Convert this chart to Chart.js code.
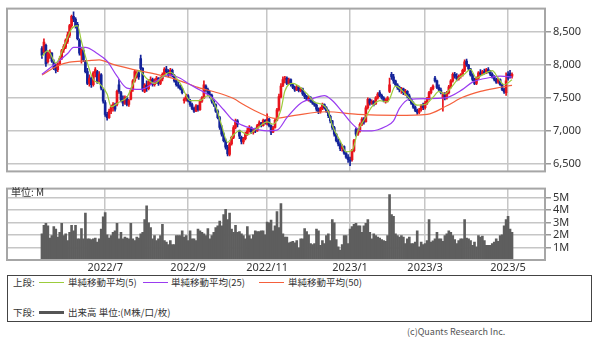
<!DOCTYPE html>
<html>
<head>
<meta charset="utf-8">
<script src="https://cdn.jsdelivr.net/npm/chart.js@4.4.0/dist/chart.umd.min.js"></script>
<style>
  body { margin: 0; width: 600px; height: 344px; background: #fff; position: relative; overflow: hidden;
         font-family: "Noto Sans CJK JP", "Noto Sans", sans-serif; color: #333; }
  #price { position: absolute; left: 0; top: 0; }
  #vol { position: absolute; left: 0; top: 180px; }
  .unit { position: absolute; left: 11px; top: 186px; font-size: 10px; line-height: 12px; }
  .legend { position: absolute; left: 7px; top: 275px; width: 585px; height: 47px; border: 1px solid #444;
            box-sizing: border-box; font-size: 9.5px; }
  .legend span { position: absolute; white-space: nowrap; line-height: 12px; }
  .legend i { position: absolute; height: 0; }
  .credit { position: absolute; left: 407px; top: 325px; font-size: 9px; color: #555; line-height: 14px; }
</style>
</head>
<body>
<canvas id="price" width="600" height="180"></canvas>
<canvas id="vol" width="600" height="95"></canvas>
<div class="unit">単位: M</div>
<div class="legend">
  <span style="left:5px;top:0px">上段:</span>
  <i style="left:31px;top:6px;width:25px;border-top:1px solid #9ccc3c"></i>
  <span style="left:60px;top:0px">単純移動平均(5)</span>
  <i style="left:135px;top:6px;width:25px;border-top:1px solid #9a3cf0"></i>
  <span style="left:163px;top:0px">単純移動平均(25)</span>
  <i style="left:251px;top:6px;width:25px;border-top:1px solid #f5603c"></i>
  <span style="left:280px;top:0px">単純移動平均(50)</span>
  <span style="left:5px;top:30px">下段:</span>
  <i style="left:31px;top:35px;width:25px;border-top:3px solid #555"></i>
  <span style="left:60px;top:30px">出来高 単位:(M株/口/枚)</span>
</div>
<div class="credit">(c)Quants Research Inc.</div>
<script>
// daily candles, index 0 = 2022/5/18
const opens = [8250,8200,8300,8050,8150,8180,8050,7980,7930,8020,
  8100,8230,8270,8360,8450,8600,8740,8700,8620,8380,
  8150,8220,8050,7900,7720,7800,7700,7880,7900,7760,
  7850,7620,7430,7250,7200,7300,7350,7400,7400,7700,
  7580,7460,7420,7500,7400,7480,7620,7760,7820,7880,
  8100,7950,7600,7690,7640,7750,7780,7700,7760,7800,
  7720,7790,7860,7940,7900,7850,7920,7840,7760,7700,
  7680,7640,7460,7480,7530,7460,7400,7340,7300,7380,
  7320,7450,7500,7680,7630,7560,7540,7450,7400,7300,
  7200,7050,6950,6850,6750,6640,6800,6900,7050,7150,
  7000,6900,6830,6880,6950,7000,7050,6980,7020,7000,
  7080,7120,7080,7160,7100,7180,7080,6980,7050,7160,
  7320,7520,7690,7780,7800,7720,7780,7700,7660,7620,
  7670,7610,7640,7560,7520,7480,7500,7450,7420,7390,
  7330,7290,7340,7400,7350,7300,7220,7150,7050,6950,
  6850,6800,6730,6760,6660,6600,6560,6560,6700,7020,
  6950,7000,7100,7180,7140,7350,7480,7420,7450,7410,
  7500,7580,7540,7500,7440,7470,7600,7860,7820,7760,
  7700,7660,7620,7640,7580,7600,7530,7480,7420,7360,
  7310,7280,7320,7380,7350,7420,7490,7580,7640,7800,
  7760,7660,7620,7500,7550,7500,7580,7670,7760,7860,
  7830,7790,7830,7850,7920,8060,8000,7940,7850,7780,
  7720,7800,7880,7860,7900,7880,7930,7900,7860,7820,
  7780,7740,7780,7700,7630,7580,7860,7870,7830];
const highs = [8280,8400,8320,8200,8230,8190,8080,8010,8030,8130,
  8240,8310,8400,8500,8620,8760,8810,8720,8650,8400,
  8250,8260,8070,7950,7850,7820,7900,7960,7920,7900,
  7870,7640,7460,7280,7330,7390,7430,7420,7620,7780,
  7600,7530,7530,7520,7480,7650,7780,7920,7900,7900,
  8150,7960,7720,7760,7780,7820,7800,7790,7830,7810,
  7820,7880,7960,7980,7930,7950,7940,7860,7780,7740,
  7700,7660,7500,7560,7550,7480,7420,7360,7400,7390,
  7470,7520,7760,7700,7650,7600,7560,7470,7410,7320,
  7220,7080,6970,6880,6780,6820,6920,7080,7180,7170,
  7010,6920,6900,6980,7040,7080,7060,7030,7040,7100,
  7150,7130,7180,7170,7260,7190,7090,7070,7180,7340,
  7560,7720,7820,7830,7820,7800,7790,7720,7680,7690,
  7680,7660,7650,7580,7540,7530,7520,7470,7440,7410,
  7350,7360,7420,7410,7370,7320,7240,7160,7070,6960,
  6880,6820,6790,6770,6680,6640,6600,6720,6870,7040,
  7030,7120,7200,7200,7380,7500,7490,7470,7460,7520,
  7580,7610,7560,7520,7490,7520,7800,7890,7860,7770,
  7720,7680,7660,7650,7630,7610,7560,7490,7440,7380,
  7330,7340,7400,7420,7450,7510,7600,7660,7700,7830,
  7770,7700,7650,7580,7580,7600,7690,7780,7880,7890,
  7870,7850,7870,7940,8080,8090,8010,7950,7870,7800,
  7820,7900,7930,7920,7940,7950,7960,7920,7880,7840,
  7800,7800,7790,7710,7650,7880,7900,7920,7880];
const lows = [8100,8180,7980,8030,8100,8040,7930,7880,7900,8000,
  8080,8190,8250,8330,8420,8570,8660,8560,8380,8150,
  8030,8050,7880,7700,7680,7660,7680,7820,7720,7740,
  7620,7420,7220,7160,7190,7260,7300,7300,7380,7570,
  7440,7380,7400,7380,7370,7470,7600,7740,7800,7780,
  7920,7600,7580,7600,7620,7700,7680,7680,7720,7690,
  7700,7760,7840,7880,7820,7830,7820,7740,7680,7650,
  7620,7560,7420,7450,7440,7370,7320,7280,7290,7300,
  7310,7430,7490,7600,7530,7500,7420,7370,7280,7180,
  7020,6920,6830,6720,6620,6620,6780,6880,7030,7060,
  6880,6800,6800,6860,6930,6980,6960,6950,6970,6990,
  7060,7060,7070,7100,7090,7060,6940,6970,7040,7150,
  7300,7500,7670,7730,7700,7700,7680,7640,7600,7610,
  7590,7590,7540,7490,7460,7450,7430,7400,7370,7300,
  7260,7270,7320,7330,7280,7200,7120,7020,6920,6830,
  6770,6700,6690,6640,6580,6520,6470,6540,6680,6920,
  6930,6980,7080,7100,7130,7330,7390,7400,7380,7400,
  7480,7520,7480,7440,7420,7440,7580,7780,7720,7680,
  7630,7590,7570,7550,7540,7500,7460,7400,7340,7290,
  7250,7260,7300,7320,7330,7400,7470,7560,7620,7740,
  7640,7600,7560,7300,7470,7480,7560,7650,7740,7800,
  7760,7770,7800,7830,7900,7980,7920,7830,7760,7700,
  7700,7780,7840,7850,7860,7870,7880,7840,7800,7760,
  7720,7720,7690,7610,7570,7540,7770,7800,7800];
const closes = [8150,8350,8020,8180,8200,8060,7960,7920,8010,8100,
  8220,8280,8380,8460,8600,8740,8700,8600,8400,8180,
  8230,8080,7900,7720,7800,7700,7880,7930,7750,7860,
  7650,7450,7250,7200,7300,7360,7400,7330,7600,7600,
  7470,7420,7510,7400,7460,7620,7760,7900,7880,7820,
  7950,7620,7700,7640,7750,7780,7700,7760,7800,7720,
  7790,7860,7940,7900,7850,7920,7840,7760,7700,7680,
  7640,7580,7480,7530,7460,7400,7340,7300,7380,7320,
  7450,7500,7700,7630,7560,7540,7450,7400,7300,7200,
  7050,6950,6850,6750,6650,6800,6900,7050,7150,7100,
  6920,6840,6880,6950,7000,7050,6980,7000,7000,7080,
  7120,7080,7160,7120,7180,7080,6980,7050,7160,7320,
  7520,7680,7780,7800,7720,7780,7700,7660,7620,7670,
  7610,7640,7560,7520,7480,7500,7450,7420,7390,7330,
  7290,7340,7390,7350,7300,7230,7150,7050,6950,6850,
  6800,6730,6760,6660,6600,6560,6540,6700,6850,6950,
  7000,7100,7180,7130,7350,7480,7420,7450,7400,7500,
  7560,7540,7500,7460,7470,7500,7700,7820,7760,7700,
  7660,7620,7640,7580,7600,7530,7480,7420,7360,7310,
  7280,7320,7380,7350,7420,7490,7580,7640,7680,7760,
  7660,7620,7580,7550,7500,7580,7670,7760,7860,7830,
  7790,7830,7850,7920,8050,8000,7940,7850,7780,7720,
  7800,7880,7860,7900,7880,7930,7900,7860,7820,7780,
  7740,7780,7700,7630,7590,7760,7800,7820,7860];
// volume, millions of shares
const volumes = [2.08,2.77,2.92,2.72,1.74,1.95,2.67,2.46,1.82,2.21,
  2.92,1.95,2.08,1.56,2.21,2.77,2.33,2.77,1.69,1.69,
  2.51,1.69,3.74,1.69,1.69,1.64,1.69,1.74,1.44,1.69,
  2.46,3.44,3.79,2.0,1.74,1.95,2.21,2.33,2.92,1.69,
  2.21,1.69,1.82,1.74,1.69,2.92,1.69,1.56,1.82,1.74,
  2.08,2.21,3.23,4.33,2.97,2.59,1.69,1.95,1.56,1.69,
  1.95,2.85,1.56,1.44,1.23,1.56,1.23,1.23,1.95,1.95,
  1.95,2.33,1.82,1.95,1.56,2.33,1.69,1.69,1.56,2.46,
  2.33,2.21,2.08,1.95,2.51,1.69,1.95,2.21,2.59,2.72,
  3.10,2.72,3.62,4.05,3.23,3.74,2.46,2.21,2.77,2.21,
  2.26,2.08,1.95,1.69,2.67,1.95,1.69,2.0,2.33,2.26,
  2.26,2.33,2.33,2.0,3.03,2.97,3.18,2.33,2.72,3.87,
  2.59,4.51,2.08,1.82,1.82,1.38,1.44,1.49,1.38,1.56,
  0.97,1.69,1.69,2.51,2.26,2.0,1.31,1.23,1.31,2.46,
  2.33,1.18,1.56,1.31,1.95,2.08,1.56,3.23,2.97,1.64,
  1.05,0.79,1.23,1.95,1.95,1.31,2.46,2.67,2.85,2.92,
  2.72,2.72,2.21,2.72,2.92,3.23,2.21,1.69,2.08,1.95,
  1.82,1.74,1.64,1.56,1.49,1.95,5.23,3.62,3.49,2.08,
  1.95,1.82,1.95,1.82,1.31,1.69,1.82,1.31,1.31,1.44,
  2.33,1.05,1.44,1.23,1.31,1.56,3.23,1.44,1.54,1.69,
  2.21,1.69,1.69,1.49,1.95,2.08,2.33,2.21,1.95,1.64,
  1.31,1.56,1.69,1.69,3.23,1.74,1.69,1.56,1.18,1.44,
  1.05,1.95,1.82,1.90,1.56,1.18,1.18,1.18,1.31,1.44,
  1.69,1.49,1.95,2.0,2.72,3.23,3.49,2.46,2.21];

// moving averages (day index, value)
const ma5Days = [0,3,7,11,15,18,20,23,26,29,33,35,39,43,46,49,53,57,61,65,
  70,75,80,84,88,91,94,97,100,104,109,114,117,121,123,127,132,135,138,142,
  145,147,151,154,157,160,164,167,171,175,179,184,187,190,194,198,201,204,207,211,
  214,217,220,223,228,231,234,238];
const ma5Vals = [8130,8220,8030,8270,8550,8600,8360,8030,7780,7720,7560,7365,7435,7510,7700,7915,7795,7720,7820,7890,
  7720,7460,7460,7535,7365,7080,6825,6940,7000,6940,7040,7135,7100,7320,7605,7720,7630,7535,7435,7400,
  7290,7080,6850,6680,6700,7000,7210,7365,7460,7440,7680,7560,7460,7390,7400,7510,7600,7560,7650,7800,
  7865,7935,7800,7850,7915,7800,7700,7775];
const ma25Days = [0,6,13,16,22,28,33,38,43,50,58,64,70,74,80,86,92,96,101,106,
  114,119,124,131,138,143,147,152,157,162,167,174,178,181,186,195,204,213,218,227,232,238];
const ma25Vals = [7860,8000,8175,8270,8270,8175,8060,7830,7650,7630,7760,7850,7800,7720,7620,7510,7320,7180,7090,7040,
  7000,7010,7200,7420,7500,7535,7460,7290,7110,7000,7000,7065,7150,7340,7480,7490,7500,7630,7740,7810,7830,7820];
const ma50Days = [0,8,14,23,29,36,46,57,67,79,91,97,102,111,118,128,144,160,180,195,205,213,222,230,238];
const ma50Vals = [7850,7990,8045,8065,8080,8010,7935,7865,7790,7660,7560,7490,7400,7260,7190,7235,7290,7250,7235,7250,7380,7510,7600,7650,7690];

// month gridlines: first trading day of each labelled month
const tickDays = [32, 74, 114, 156, 194, 236];
const tickLabels = ['2022/7', '2022/9', '2022/11', '2023/1', '2023/3', '2023/5'];
const priceTicks = [6500, 7000, 7500, 8000, 8500];
const volTicks = [1, 2, 3, 4, 5];

const RED = '#e8141c', BLUE = '#14239a', GRID = '#c6c6c6';
const candleColors = closes.map((c, i) => c >= opens[i] ? RED : BLUE);
const xRange = { min: -17.7, max: 254.7 };
const tickFont = { family: 'Noto Sans', size: 11 };

const frame = {
  id: 'frame',
  afterDraw(chart) {
    const a = chart.chartArea, ctx = chart.ctx;
    ctx.save();
    ctx.strokeStyle = '#a6a6a6';
    ctx.lineWidth = 2;
    ctx.strokeRect(a.left, a.top, a.right - a.left, a.bottom - a.top);
    ctx.restore();
  }
};

function maLine(days, vals, color) {
  return {
    type: 'line',
    data: days.map((d, k) => ({ x: d, y: vals[k] })),
    borderColor: color,
    borderWidth: 1.2,
    pointRadius: 0,
    cubicInterpolationMode: 'monotone',
    order: 0
  };
}

new Chart(document.getElementById('price'), {
  type: 'bar',
  data: {
    datasets: [
      maLine(ma5Days, ma5Vals, '#9ccc3c'),
      maLine(ma25Days, ma25Vals, '#9a3cf0'),
      maLine(ma50Days, ma50Vals, '#f5603c'),
      {
        data: highs.map((h, i) => ({ x: i, y: [lows[i], h] })),
        backgroundColor: candleColors,
        barThickness: 1,
        grouped: false,
        order: 2
      },
      {
        data: opens.map((o, i) => ({ x: i, y: [o, closes[i]] })),
        backgroundColor: candleColors,
        barThickness: 2,
        grouped: false,
        order: 1
      }
    ]
  },
  options: {
    responsive: false,
    animation: false,
    devicePixelRatio: 1,
    layout: { padding: { left: 7, top: 2, right: 0, bottom: 4 } },
    plugins: { legend: { display: false }, tooltip: { enabled: false } },
    scales: {
      x: {
        type: 'linear', min: xRange.min, max: xRange.max, offset: false,
        afterBuildTicks: s => { s.ticks = tickDays.map(v => ({ value: v })); },
        afterFit: s => { s.height = 0; },
        ticks: { display: false },
        grid: { color: GRID, lineWidth: 1.5, drawTicks: false, offset: false },
        border: { display: false }
      },
      y: {
        position: 'right', min: 6383, max: 8858,
        afterBuildTicks: s => { s.ticks = priceTicks.map(v => ({ value: v })); },
        afterFit: s => { s.width = 55; },
        ticks: { color: '#333', font: tickFont, padding: 2, callback: v => v.toLocaleString('en-US') },
        grid: { color: GRID, lineWidth: 1.5, tickLength: 6, tickColor: '#999' },
        border: { display: false }
      }
    }
  },
  plugins: [frame]
});

new Chart(document.getElementById('vol'), {
  type: 'bar',
  data: {
    datasets: [{
      data: volumes.map((v, i) => ({ x: i, y: v })),
      backgroundColor: '#5e5e5e',
      barPercentage: 1,
      categoryPercentage: 1,
      borderWidth: 0
    }]
  },
  options: {
    responsive: false,
    animation: false,
    devicePixelRatio: 1,
    layout: { padding: { left: 7, top: 7, right: 0, bottom: 0 } },
    plugins: { legend: { display: false }, tooltip: { enabled: false } },
    scales: {
      x: {
        type: 'linear', min: xRange.min, max: xRange.max, offset: false,
        afterBuildTicks: s => { s.ticks = tickDays.map(v => ({ value: v })); },
        afterFit: s => { s.height = 15; },
        ticks: { color: '#333', font: tickFont, padding: 1, maxRotation: 0, autoSkip: false,
                 callback: (v, k) => tickLabels[k] },
        grid: { color: GRID, lineWidth: 1.5, drawTicks: false, offset: false },
        border: { display: false }
      },
      y: {
        position: 'right', min: 0, max: 5.7,
        afterBuildTicks: s => { s.ticks = volTicks.map(v => ({ value: v })); },
        afterFit: s => { s.width = 55; },
        ticks: { color: '#333', font: tickFont, padding: 2, callback: v => v + 'M' },
        grid: { color: GRID, lineWidth: 1.5, tickLength: 6, tickColor: '#999' },
        border: { display: false }
      }
    }
  },
  plugins: [frame]
});
</script>
</body>
</html>
